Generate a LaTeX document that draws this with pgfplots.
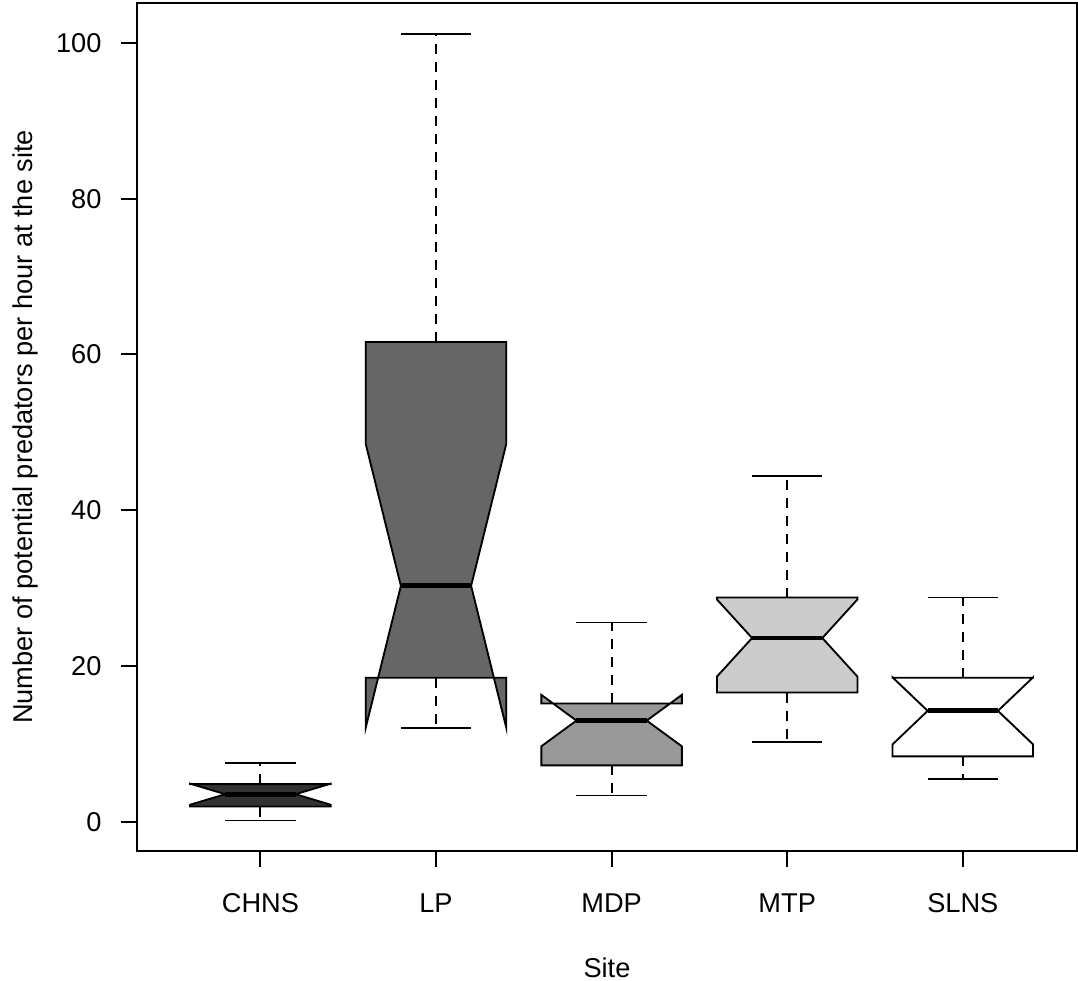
\documentclass[border=0pt]{standalone}
\usepackage{pgfplots}
\pgfplotsset{compat=1.18}
\usepackage{fontspec}
\setmainfont{Liberation Sans}
\begin{document}
\fontsize{10.2pt}{12pt}\selectfont
\begin{tikzpicture}
\begin{axis}[
  scale only axis,
  width=352.5pt, height=318pt,
  xmin=0.2975, xmax=5.65,
  ymin=-3.72, ymax=105.13,
  axis line style={line width=0.75pt},
  every tick/.style={black, line width=0.75pt},
  tick align=outside,
  major tick length=6pt,
  xtick pos=bottom, ytick pos=left,
  xtick={1,2,3,4,5},
  xticklabels={CHNS,LP,MDP,MTP,SLNS},
  ytick={0,20,40,60,80,100},
  /pgf/number format/assume math mode=true,
  tick label style={font=\fontsize{10.2pt}{12pt}\selectfont},
  yticklabel style={anchor=east, xshift=-3.75pt},
  xticklabel style={anchor=base, yshift=-17.1pt},
  xlabel={Site},
  ylabel={Number of potential predators per hour at the site},
  label style={font=\fontsize{10.2pt}{12pt}\selectfont},
  xlabel style={at={(axis description cs:0.5,-0.138)}, anchor=center},
  ylabel style={at={(axis description cs:-0.1188,0.5)}, anchor=center},
  clip=false,
]
\coordinate (sw) at (rel axis cs:0,0);
\coordinate (ne) at (rel axis cs:1,1);
% --- boxes (notched polygons)
\addplot[draw=black, line width=0.7pt, fill=black!80] coordinates {(0.6,1.97) (1.4,1.97) (1.4,2.2) (1.2,3.55) (1.4,4.9) (1.4,4.84) (0.6,4.84) (0.6,4.9) (0.8,3.55) (0.6,2.2)} --cycle;
\addplot[draw=black, line width=0.7pt, fill=black!60] coordinates {(1.6,18.5) (2.4,18.5) (2.4,12.1) (2.2,30.3) (2.4,48.5) (2.4,61.6) (1.6,61.6) (1.6,48.5) (1.8,30.3) (1.6,12.1)} --cycle;
\addplot[draw=black, line width=0.7pt, fill=black!40] coordinates {(2.6,7.25) (3.4,7.25) (3.4,9.7) (3.2,13.0) (3.4,16.3) (3.4,15.2) (2.6,15.2) (2.6,16.3) (2.8,13.0) (2.6,9.7)} --cycle;
\addplot[draw=black, line width=0.7pt, fill=black!20] coordinates {(3.6,16.6) (4.4,16.6) (4.4,18.65) (4.2,23.6) (4.4,28.55) (4.4,28.8) (3.6,28.8) (3.6,28.55) (3.8,23.6) (3.6,18.65)} --cycle;
\addplot[draw=black, line width=0.7pt, fill=white] coordinates {(4.6,8.4) (5.4,8.4) (5.4,9.95) (5.2,14.25) (5.4,18.55) (5.4,18.5) (4.6,18.5) (4.6,18.55) (4.8,14.25) (4.6,9.95)} --cycle;
% --- medians
\addplot[black, line width=1.8pt] coordinates {(0.8,3.55) (1.2,3.55)};
\addplot[black, line width=1.8pt] coordinates {(1.8,30.3) (2.2,30.3)};
\addplot[black, line width=1.8pt] coordinates {(2.8,13.0) (3.2,13.0)};
\addplot[black, line width=1.8pt] coordinates {(3.8,23.6) (4.2,23.6)};
\addplot[black, line width=1.8pt] coordinates {(4.8,14.25) (5.2,14.25)};
% --- whiskers (dashed)
\addplot[black, line width=0.7pt, dash pattern=on 3.75pt off 3pt] coordinates {(1,4.84) (1,7.57)};
\addplot[black, line width=0.7pt, dash pattern=on 3.75pt off 3pt] coordinates {(1,1.97) (1,0.17)};
\addplot[black, line width=0.7pt, dash pattern=on 3.75pt off 3pt] coordinates {(2,61.6) (2,101.1)};
\addplot[black, line width=0.7pt, dash pattern=on 3.75pt off 3pt] coordinates {(2,18.5) (2,12.05)};
\addplot[black, line width=0.7pt, dash pattern=on 3.75pt off 3pt] coordinates {(3,15.2) (3,25.6)};
\addplot[black, line width=0.7pt, dash pattern=on 3.75pt off 3pt] coordinates {(3,7.25) (3,3.38)};
\addplot[black, line width=0.7pt, dash pattern=on 3.75pt off 3pt] coordinates {(4,28.8) (4,44.4)};
\addplot[black, line width=0.7pt, dash pattern=on 3.75pt off 3pt] coordinates {(4,16.6) (4,10.2)};
\addplot[black, line width=0.7pt, dash pattern=on 3.75pt off 3pt] coordinates {(5,18.5) (5,28.8)};
\addplot[black, line width=0.7pt, dash pattern=on 3.75pt off 3pt] coordinates {(5,8.4) (5,5.5)};
% --- caps
\addplot[black, line width=0.7pt] coordinates {(0.8,7.57) (1.2,7.57)};
\addplot[black, line width=0.7pt] coordinates {(0.8,0.17) (1.2,0.17)};
\addplot[black, line width=0.7pt] coordinates {(1.8,101.1) (2.2,101.1)};
\addplot[black, line width=0.7pt] coordinates {(1.8,12.05) (2.2,12.05)};
\addplot[black, line width=0.7pt] coordinates {(2.8,25.6) (3.2,25.6)};
\addplot[black, line width=0.7pt] coordinates {(2.8,3.38) (3.2,3.38)};
\addplot[black, line width=0.7pt] coordinates {(3.8,44.4) (4.2,44.4)};
\addplot[black, line width=0.7pt] coordinates {(3.8,10.2) (4.2,10.2)};
\addplot[black, line width=0.7pt] coordinates {(4.8,28.8) (5.2,28.8)};
\addplot[black, line width=0.7pt] coordinates {(4.8,5.5) (5.2,5.5)};
\end{axis}
\pgfresetboundingbox
\path ([xshift=-51.4pt,yshift=-48.75pt]sw) rectangle ([xshift=0.4pt,yshift=1.1pt]ne);
\end{tikzpicture}
\end{document}
